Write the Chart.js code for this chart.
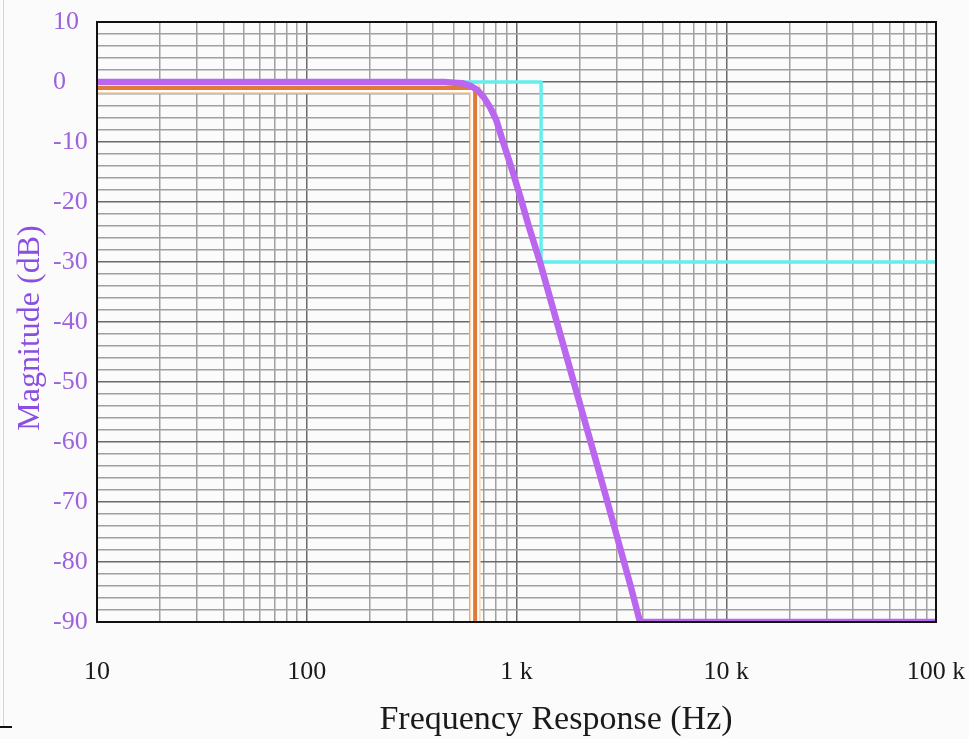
<!DOCTYPE html>
<html>
<head>
<meta charset="utf-8">
<script src="https://cdn.jsdelivr.net/npm/chart.js@4.4.1/dist/chart.umd.min.js"></script>
<style>
  html, body { margin: 0; padding: 0; background: #fbfbfb; }
  #wrap { position: relative; width: 969px; height: 739px; }
  #edge { position: absolute; left: 3px; top: 0; width: 1px; height: 727px; background: #d4d4d4; }
  #foot { position: absolute; left: 0; top: 726px; width: 12px; height: 2px; background: #111; }
</style>
</head>
<body>
<div id="wrap">
  <canvas id="grafico" width="969" height="739"></canvas>
  <div id="edge"></div>
  <div id="foot"></div>
</div>
<script>
// ---- DATA ----
// purple: filter response
const respFreq = [10, 450, 550, 600, 650, 700, 750, 800, 863, 950, 1050, 1150, 1294, 1500, 2000, 2500, 3000, 3500, 3880, 100000];
const respDb   = [0, 0, -0.2, -0.6, -1.3, -2.6, -4.3, -6.3, -10, -14.5, -19.5, -24.3, -30, -38, -53.5, -65.5, -75.5, -84, -90, -90];
// cyan: stopband mask
const maskFreq = [10, 1310, 1310, 100000];
const maskDb   = [0, 0, -30, -30];
// orange: passband edge
const edgeFreq = [10, 635, 635];
const edgeDb   = [-1, -1, -90];

// ---- AXES ----
const xGrid = [];
[10, 100, 1000, 10000].forEach(d => { for (let m = 1; m <= 9; m++) xGrid.push(d * m); });
xGrid.push(100000);
const xLabels = { 10: "10", 100: "100", 1000: "1 k", 10000: "10 k", 100000: "100 k" };
const yGrid = [];
for (let v = -90; v <= 10; v += 2) yGrid.push(v);

const toPts = (xs, ys) => xs.map((x, i) => ({ x: x, y: ys[i] }));

const serif = "'Liberation Serif', 'Times New Roman', serif";

// frame + axis titles
const framePlugin = {
  id: "frame",
  afterDatasetsDraw(chart) {
    const { ctx, chartArea: a } = chart;
    ctx.save();
    ctx.strokeStyle = "#111";
    ctx.lineWidth = 2;
    ctx.strokeRect(a.left, a.top, a.right - a.left, a.bottom - a.top);
    ctx.restore();
  },
  afterDraw(chart) {
    const { ctx, chartArea: a } = chart;
    ctx.save();
    ctx.fillStyle = "#1a1a1a";
    ctx.font = "34px " + serif;
    ctx.textAlign = "center";
    ctx.textBaseline = "alphabetic";
    ctx.fillText("Frequency Response (Hz)", 556, 729);
    ctx.translate(31, 328);
    ctx.rotate(-Math.PI / 2);
    ctx.fillStyle = "#8a4fe0";
    ctx.font = "32px " + serif;
    ctx.textBaseline = "middle";
    ctx.fillText("Magnitude (dB)", 0, 0);
    ctx.restore();
  }
};

const ctxG = document.getElementById("grafico").getContext("2d");

const chart = new Chart(ctxG, {
  type: "line",
  data: {
    datasets: [
      { data: toPts(respFreq, respDb), borderColor: "#bb66ee", borderWidth: 6.5, order: 1 },
      { data: toPts(maskFreq, maskDb), borderColor: "#66eeee", borderWidth: 3.5, order: 2 },
      { data: toPts(edgeFreq, edgeDb), borderColor: "#e07a38", borderWidth: 4, order: 3 },
      { data: toPts(edgeFreq, edgeDb), borderColor: "#ffffff", borderWidth: 8, order: 4 },
      { data: toPts(edgeFreq, edgeDb), borderColor: "#fbd6b0", borderWidth: 11, order: 5 }
    ]
  },
  options: {
    responsive: false,
    animation: false,
    parsing: false,
    layout: { padding: { left: 53, top: 22, right: 33, bottom: 0 } },
    elements: {
      point: { radius: 0 },
      line: { tension: 0, fill: false, borderJoinStyle: "round" }
    },
    plugins: { legend: { display: false }, tooltip: { enabled: false } },
    scales: {
      x: {
        type: "logarithmic",
        min: 10,
        max: 100000,
        afterBuildTicks: s => { s.ticks = xGrid.map(v => ({ value: v })); },
        afterFit: s => { s.height = 117; s.paddingLeft = 0; s.paddingRight = 0; },
        ticks: {
          autoSkip: false,
          maxRotation: 0,
          minRotation: 0,
          padding: 35,
          color: "#1a1a1a",
          font: { family: serif, size: 26 },
          callback: v => xLabels[v] || ""
        },
        grid: {
          drawTicks: false,
          color: c => (c.tick && xLabels[c.tick.value]) ? "#6a6a6a" : "#a0a0a0",
          lineWidth: 1.5
        },
        border: { display: false }
      },
      y: {
        min: -90,
        max: 10,
        afterBuildTicks: s => { s.ticks = yGrid.map(v => ({ value: v })); },
        afterFit: s => { s.width = 44; s.paddingTop = 0; s.paddingBottom = 0; },
        ticks: {
          autoSkip: false,
          crossAlign: "far",
          color: "#9d63dc",
          font: { family: serif, size: 26 },
          callback: v => (v % 10 === 0 ? String(v) : "")
        },
        grid: {
          drawTicks: false,
          color: c => (c.tick && c.tick.value % 10 === 0) ? "#6a6a6a" : "#a0a0a0",
          lineWidth: 1.5
        },
        border: { display: false }
      }
    }
  },
  plugins: [framePlugin]
});
</script>
</body>
</html>
